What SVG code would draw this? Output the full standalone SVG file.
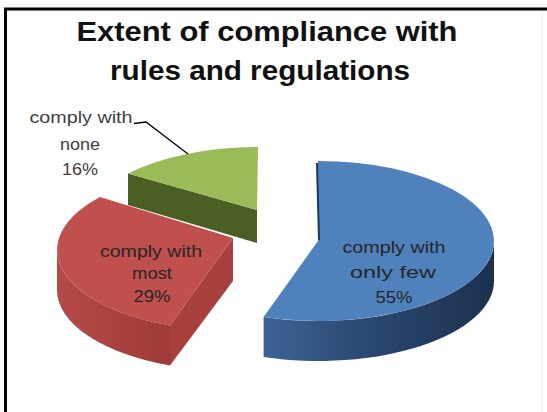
<svg xmlns="http://www.w3.org/2000/svg" width="547" height="412" viewBox="0 0 547 412">
  <defs>
    <linearGradient id="blueSide" x1="263" y1="0" x2="494" y2="0" gradientUnits="userSpaceOnUse">
      <stop offset="0" stop-color="#3d6395"/>
      <stop offset="0.45" stop-color="#2a4870"/>
      <stop offset="1" stop-color="#1c3150"/>
    </linearGradient>
    <linearGradient id="redSide" x1="57" y1="0" x2="170" y2="0" gradientUnits="userSpaceOnUse">
      <stop offset="0" stop-color="#b44a47"/>
      <stop offset="1" stop-color="#9e3b39"/>
    </linearGradient>
    <style>
      .title { font-family: "Liberation Sans", Arial, sans-serif; font-weight: bold; font-size: 28px; fill: #111111; text-anchor: middle; }
      .lbl { font-family: "Liberation Sans", Arial, sans-serif; font-size: 16px; fill: #262626; text-anchor: middle; }
      .lbl-out { fill: #404040; }
      .frame { stroke: #000000; stroke-width: 3; fill: none; }
      .leader { stroke: #000000; stroke-width: 1.3; fill: none; }
    </style>
  </defs>

  <rect x="0" y="0" width="547" height="412" fill="#ffffff"/>
  <path class="frame" d="M 5.5,412 L 5.5,9 L 547,9"/>
  <line x1="542" y1="11" x2="542" y2="412" stroke="#f0f0f0" stroke-width="1"/>

  <g id="title">
    <text class="title" x="267" y="41" textLength="381" lengthAdjust="spacingAndGlyphs">Extent of compliance with</text>
    <text class="title" x="260" y="80" textLength="300" lengthAdjust="spacingAndGlyphs">rules and regulations</text>
  </g>

  <g id="slice-none">
    <path d="M 128,173.4 L 257,210 L 257,243 L 128,205 Z" fill="#4b5e24"/>
    <path d="M 257,210 L 128,173.4 A 176 81 0 0 1 258,147 Z" fill="#9bbb59"/>
    <text class="lbl lbl-out" x="81" y="123" textLength="103" lengthAdjust="spacingAndGlyphs">comply with</text>
    <text class="lbl lbl-out" x="80" y="150" textLength="40" lengthAdjust="spacingAndGlyphs">none</text>
    <text class="lbl lbl-out" x="80" y="175" textLength="36" lengthAdjust="spacingAndGlyphs">16%</text>
  </g>

  <g id="slice-few">
    <path d="M 494,241 A 176 80 0 0 1 263.6,317.1 L 263.6,357.1 A 176 80 0 0 0 494,281 Z" fill="url(#blueSide)"/>
    <path d="M 318,241 L 318,161 A 176 80 0 1 1 263.6,317.1 Z" fill="#4f81bd"/>
    <line x1="317" y1="163" x2="319" y2="240" stroke="#1f3553" stroke-width="2"/>
    <text class="lbl" x="394" y="253" textLength="103" lengthAdjust="spacingAndGlyphs">comply with</text>
    <text class="lbl" x="393" y="278" textLength="86" lengthAdjust="spacingAndGlyphs">only few</text>
    <text class="lbl" x="394" y="303" textLength="37" lengthAdjust="spacingAndGlyphs">55%</text>
  </g>

  <g id="slice-most">
    <path d="M 57,250 A 176 81 0 0 0 170,325.6 L 170,365.6 A 176 81 0 0 1 57,290 Z" fill="url(#redSide)"/>
    <path d="M 233,238 L 170,325.6 L 170,365.6 L 233,281 Z" fill="#a8403e"/>
    <path d="M 233,238 L 100,197 A 176 81 0 0 0 170,325.6 Z" fill="#c0504d"/>
    <text class="lbl" x="151" y="257" textLength="102" lengthAdjust="spacingAndGlyphs">comply with</text>
    <text class="lbl" x="152" y="279" textLength="40" lengthAdjust="spacingAndGlyphs">most</text>
    <text class="lbl" x="152" y="302" textLength="37" lengthAdjust="spacingAndGlyphs">29%</text>
  </g>

  <g id="connectors">
    <path class="leader" d="M 134,123.5 L 146,122 L 188,154"/>
  </g>
</svg>
